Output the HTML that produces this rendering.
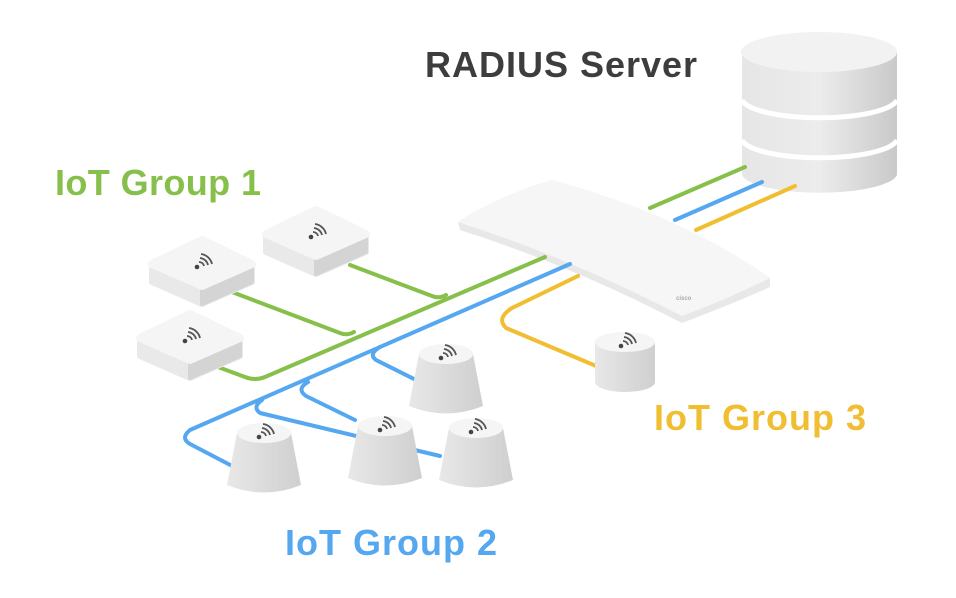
<!DOCTYPE html>
<html><head><style>
html,body{margin:0;padding:0;background:#fff;}
svg{display:block;}
text{font-family:"Liberation Sans",sans-serif;font-weight:bold;}
</style></head><body>
<svg width="956" height="598" viewBox="0 0 956 598" xmlns="http://www.w3.org/2000/svg">
<defs>
<linearGradient id="dbg" x1="0" x2="1" y1="0" y2="0">
<stop offset="0" stop-color="#e6e6e6"/><stop offset="0.5" stop-color="#ececec"/><stop offset="1" stop-color="#c9c9c9"/></linearGradient>
<linearGradient id="side" x1="0" x2="1"><stop offset="0" stop-color="#e8e8e8"/><stop offset="1" stop-color="#cfcfcf"/></linearGradient>
<g id="wifi">
<circle cx="-5" cy="4" r="2.3" fill="#444"/>
<path d="M-3,-1 a5,5 0 0 1 5,4 M-2,-5 a9,9 0 0 1 8,7 M-1,-9 a13,13 0 0 1 11,10" stroke="#555" stroke-width="1.8" fill="none"/>
</g>
<g id="box">
<path d="M-50,-6 L0,-30 L50,-6 L50,12 L0,34 L-50,12 Z" fill="#e9e9e9" stroke="#e9e9e9" stroke-width="6" stroke-linejoin="round"/>
<path d="M50,-6 L0,16 L0,34 L50,12Z" fill="#d4d4d4" stroke="#d4d4d4" stroke-width="4" stroke-linejoin="round"/>
<path d="M-50,-6 L0,-30 L50,-6 L0,16 Z" fill="#f5f5f5" stroke="#f5f5f5" stroke-linejoin="round" stroke-width="8"/>
<use href="#wifi" x="0" y="-7"/>
</g>
<g id="cone">
<path d="M-27,-12 L27,-12 L37,40 Q0,55 -37,40 Z" fill="url(#side)"/>
<ellipse cx="0" cy="-12" rx="27" ry="10" fill="#f5f5f5"/>
<use href="#wifi" x="0" y="-12"/>
</g>
</defs>

<!-- DB -->
<path d="M742,52 L742,175 A78,20 0 0 0 897,175 L897,52 Z" fill="url(#dbg)"/>
<ellipse cx="819" cy="52" rx="78" ry="20" fill="#f2f2f2"/>
<path d="M742,100 A78,20 0 0 0 897,100" stroke="#fff" stroke-width="5" fill="none"/>
<path d="M742,140 A78,20 0 0 0 897,140" stroke="#fff" stroke-width="5" fill="none"/>

<g stroke-width="4" stroke-linecap="round" fill="none">
<path d="M745,167 L650,208" stroke="#86c04a"/>
<path d="M762,182 L675,220" stroke="#55a8f0"/>
<path d="M795,186 L696,230" stroke="#f0be30"/>
</g>

<!-- AP -->
<path d="M458,222 Q500,195 552,180 Q680,215 770,278 L770,287 Q730,305 682,323 Q570,265 460,230 Z" fill="#e8e8e8"/>
<path d="M458,222 Q500,195 552,180 Q680,215 770,278 Q730,298 682,316 Q570,258 458,222 Z" fill="#f6f6f6"/>
<text x="676" y="300" font-size="6" fill="#aaa" font-weight="normal">cisco</text>

<g stroke-width="4" stroke-linecap="round" stroke-linejoin="round" fill="none">
<path d="M545,257 L265,377 Q255,381 245,377 L218,367" stroke="#86c04a"/>
<path d="M232,292 L340,333 Q347,336 354,332" stroke="#86c04a"/>
<path d="M350,265 L432,296 Q439,299 446,295" stroke="#86c04a"/>
<path d="M570,264 L190,430 Q180,438 190,444 L236,468" stroke="#55a8f0"/>
<path d="M380,347 Q368,354 376,360 L420,382" stroke="#55a8f0"/>
<path d="M308,382 Q296,389 306,396 L355,420" stroke="#55a8f0"/>
<path d="M262,400 Q252,407 260,413 L440,456" stroke="#55a8f0"/>
<path d="M578,276 L512,308 Q496,318 506,328 L596,366" stroke="#f0be30"/>
</g>

<use href="#box" x="316" y="240"/>
<use href="#box" x="202" y="270"/>
<use href="#box" x="190" y="344"/>
<use href="#cone" x="446" y="366"/>
<use href="#cone" x="264" y="445"/>
<use href="#cone" x="385" y="438"/>
<use href="#cone" x="476" y="440"/>
<path d="M595,342 L595,382 A30,10 0 0 0 655,382 L655,342 Z" fill="url(#side)"/>
<ellipse cx="625" cy="342" rx="30" ry="10" fill="#f5f5f5"/>
<use href="#wifi" x="626" y="342"/>

<text x="425" y="77" font-size="36" fill="#3d3d3d" textLength="272">RADIUS Server</text>
<text x="55" y="195" font-size="36" fill="#86c04a" textLength="206">IoT Group 1</text>
<text x="654" y="430" font-size="36" fill="#f0be30" textLength="212">IoT Group 3</text>
<text x="285" y="555" font-size="36" fill="#55a8f0" textLength="212">IoT Group 2</text>
</svg>
</body></html>
